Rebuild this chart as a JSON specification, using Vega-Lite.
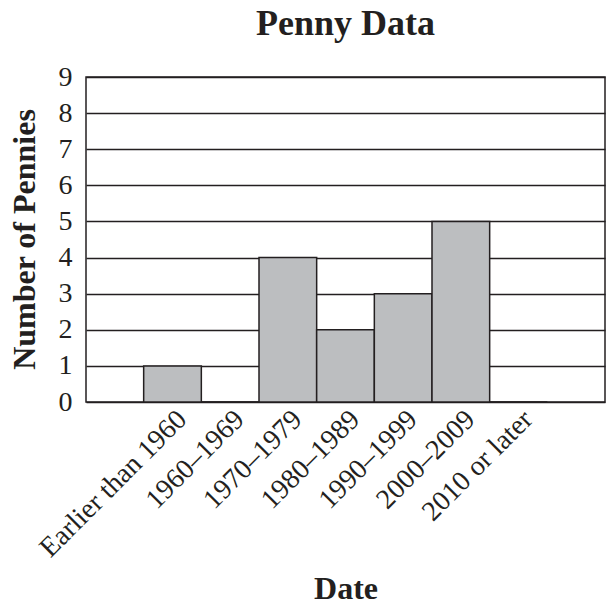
{
  "$schema": "https://vega.github.io/schema/vega-lite/v6.json",
  "autosize": "none",
  "width": 519,
  "height": 325,
  "padding": {"left": 86, "top": 77, "right": 1, "bottom": 202},
  "background": "white",
  "title": {
    "text": "Penny Data",
    "font": "Liberation Serif",
    "fontSize": 36,
    "fontWeight": "bold",
    "color": "#231f20",
    "anchor": "middle",
    "offset": 20
  },
  "config": {
    "view": {"stroke": "#231f20", "strokeWidth": 1.5},
    "axis": {
      "labelFont": "Liberation Serif",
      "titleFont": "Liberation Serif",
      "labelColor": "#231f20",
      "titleColor": "#231f20",
      "domain": false,
      "ticks": false
    }
  },
  "data": {
    "values": [
      {"date": "Earlier than 1960", "count": 1},
      {"date": "1960–1969", "count": 0},
      {"date": "1970–1979", "count": 4},
      {"date": "1980–1989", "count": 2},
      {"date": "1990–1999", "count": 3},
      {"date": "2000–2009", "count": 5},
      {"date": "2010 or later", "count": 0}
    ]
  },
  "mark": {"type": "bar", "fill": "#bcbec0", "stroke": "#231f20", "strokeWidth": 1.5},
  "encoding": {
    "x": {
      "field": "date",
      "type": "nominal",
      "sort": null,
      "scale": {"paddingInner": 0, "paddingOuter": 1},
      "axis": {
        "title": "Date",
        "titleFontSize": 32,
        "titleFontWeight": "bold",
        "titleBaseline": "alphabetic",
        "titleY": 196,
        "labelAngle": -45,
        "labelFontSize": 28,
        "labelPadding": 3,
        "labelLimit": 0,
        "grid": false
      }
    },
    "y": {
      "field": "count",
      "type": "quantitative",
      "scale": {"domain": [0, 9], "nice": false},
      "axis": {
        "title": "Number of Pennies",
        "titleFontSize": 32,
        "titleFontWeight": "bold",
        "titleX": -62,
        "titleY": 162,
        "titleAlign": "center",
        "titleBaseline": "middle",
        "labelFontSize": 28,
        "labelPadding": 14,
        "labelBaseline": "middle",
        "values": [0,1,2,3,4,5,6,7,8,9],
        "grid": true,
        "gridColor": "#231f20",
        "gridWidth": 1.5,
        "gridOpacity": 1
      }
    }
  }
}
